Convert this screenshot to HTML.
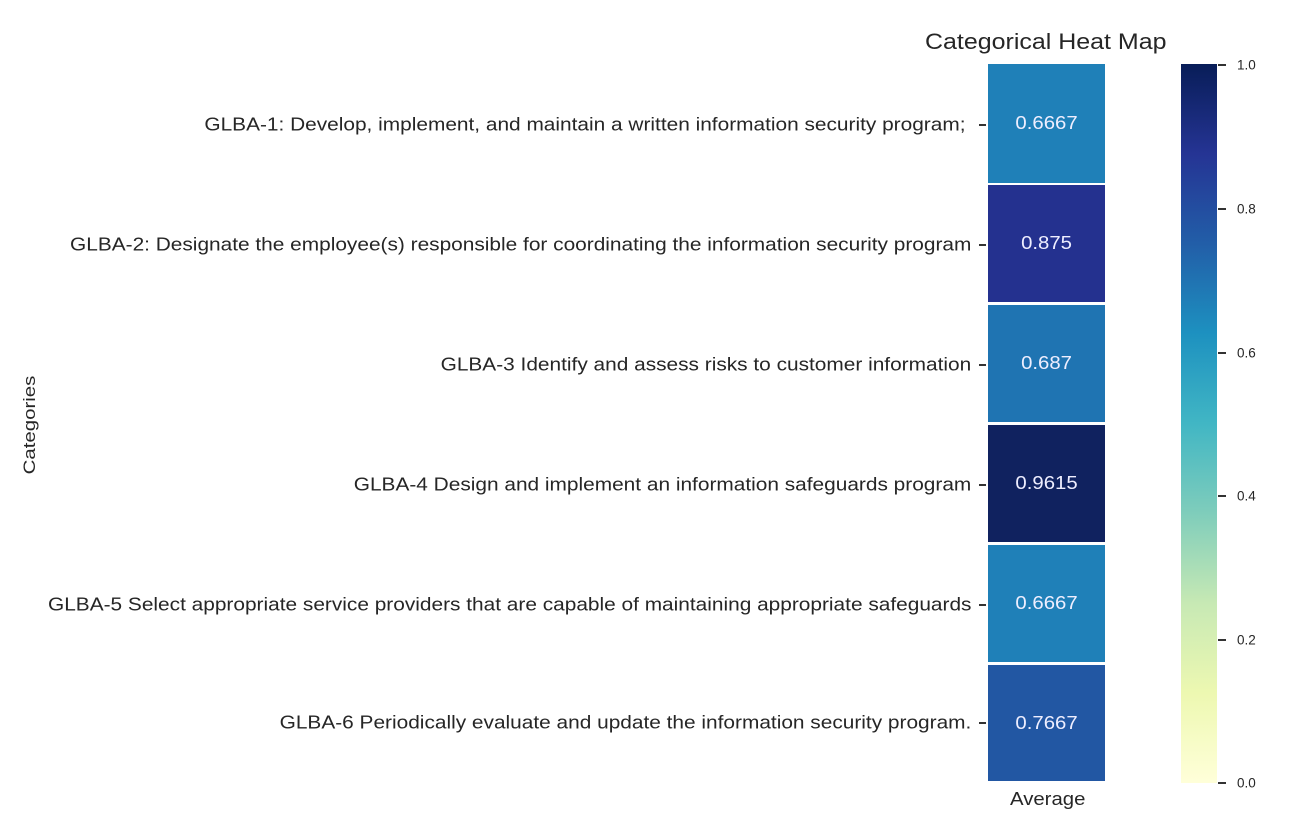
<!DOCTYPE html>
<html><head><style>
body{margin:0;width:1308px;height:815px;background:#fff;font-family:"Liberation Sans",sans-serif;color:#262626;position:relative;overflow:hidden}
.a{position:absolute}
.lab{position:absolute;right:337px;font-size:18px;white-space:nowrap;transform:translateY(-50%) scaleX(1.158);transform-origin:right center}
.tk{position:absolute;left:979px;width:7px;height:1.5px;background:#333}
.cell{position:absolute;left:988px;width:117px;color:#eef;font-size:18px;display:flex;align-items:center;justify-content:center}
.cell span{display:inline-block;transform:scaleX(1.13)}
.ct{position:absolute;left:1218px;width:8px;height:2px;background:#333}
.cl{position:absolute;left:1237px;font-size:13.5px;transform:translateY(-50%)}
</style></head><body>
<div class="a" style="left:925px;top:29px;font-size:22px;transform:scaleX(1.135);transform-origin:left center">Categorical Heat Map</div>
<div class="a" style="left:30px;top:425px;font-size:17px;transform:translate(-50%,-50%) rotate(-90deg) scaleX(1.2)">Categories</div>

<div class="lab" style="top:125px">GLBA-1: Develop, implement, and maintain a written information security program;&nbsp;</div>
<div class="lab" style="top:245px">GLBA-2: Designate the employee(s) responsible for coordinating the information security program</div>
<div class="lab" style="top:365px">GLBA-3 Identify and assess risks to customer information</div>
<div class="lab" style="top:485px">GLBA-4 Design and implement an information safeguards program</div>
<div class="lab" style="top:605px">GLBA-5 Select appropriate service providers that are capable of maintaining appropriate safeguards</div>
<div class="lab" style="top:723px">GLBA-6 Periodically evaluate and update the information security program.</div>
<div class="tk" style="top:124px"></div><div class="tk" style="top:244px"></div><div class="tk" style="top:364px"></div><div class="tk" style="top:484px"></div><div class="tk" style="top:604px"></div><div class="tk" style="top:722px"></div>

<div class="cell" style="top:64px;height:119px;background:#1f80b8"><span>0.6667</span></div>
<div class="cell" style="top:185px;height:117px;background:#24318f"><span>0.875</span></div>
<div class="cell" style="top:305px;height:117px;background:#1f74b2"><span>0.687</span></div>
<div class="cell" style="top:425px;height:117px;background:#10225f"><span>0.9615</span></div>
<div class="cell" style="top:545px;height:117px;background:#1f80b8"><span>0.6667</span></div>
<div class="cell" style="top:665px;height:116px;background:#2257a3"><span>0.7667</span></div>
<div class="a" style="left:1010px;top:789px;font-size:18px;transform:scaleX(1.13);transform-origin:left center">Average</div>

<div class="a" style="left:1181px;top:64px;width:36px;height:719px;background:linear-gradient(to top,#ffffd9 0%,#edf8b1 12.5%,#c7e9b4 25%,#7fcdbb 37.5%,#41b6c4 50%,#1d91c0 62.5%,#225ea8 75%,#253494 87.5%,#081d58 100%)"></div>
<div class="ct" style="top:64px"></div><div class="cl" style="top:65px">1.0</div>
<div class="ct" style="top:208px"></div><div class="cl" style="top:209px">0.8</div>
<div class="ct" style="top:352px"></div><div class="cl" style="top:353px">0.6</div>
<div class="ct" style="top:495px"></div><div class="cl" style="top:496px">0.4</div>
<div class="ct" style="top:639px"></div><div class="cl" style="top:640px">0.2</div>
<div class="ct" style="top:782px"></div><div class="cl" style="top:783px">0.0</div>
</body></html>
